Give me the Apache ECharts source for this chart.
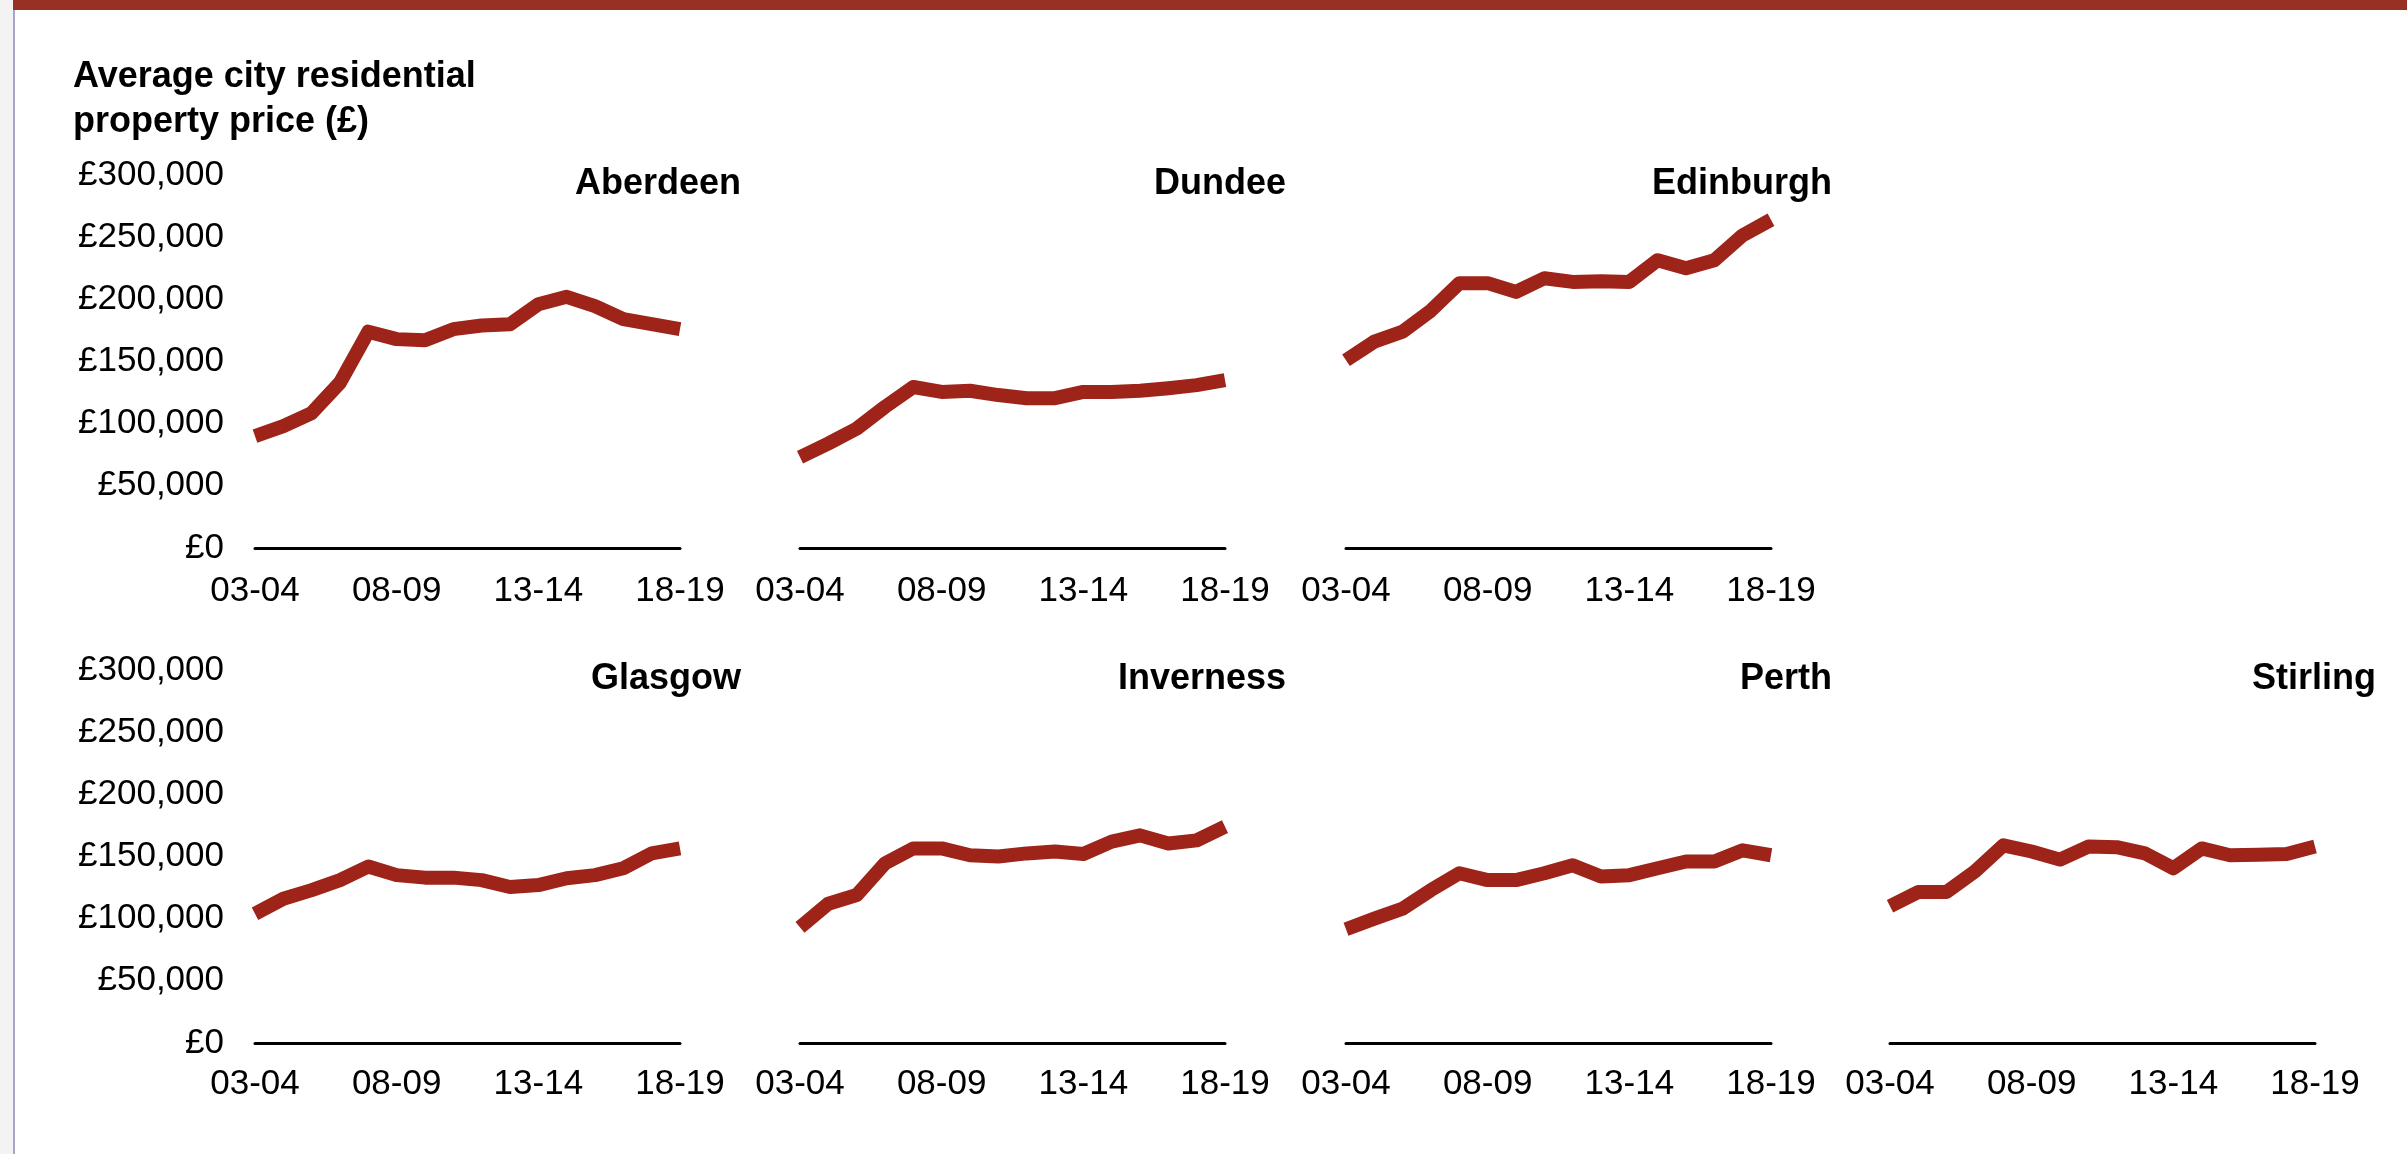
<!DOCTYPE html>
<html>
<head>
<meta charset="utf-8">
<script src="https://cdn.jsdelivr.net/npm/echarts@6/dist/echarts.min.js"></script>
<style>
  html, body { margin: 0; padding: 0; background: #fff; }
  #chart { width: 2407px; height: 1154px; }
</style>
</head>
<body>
<div id="chart"></div>
<script>
// Financial years shown on every panel
const years = ['03-04', '04-05', '05-06', '06-07', '07-08', '08-09', '09-10', '10-11',
               '11-12', '12-13', '13-14', '14-15', '15-16', '16-17', '17-18', '18-19'];

// Average residential property price per city (£)
const aberdeen  = [90000, 98000, 108500, 133000, 174000, 168000, 167000, 176000, 179000, 180000, 196000, 202000, 194500, 184000, 180000, 176000];
const dundee    = [73000, 84000, 96000, 113500, 129500, 125500, 126500, 123000, 120500, 120500, 125500, 125500, 126500, 128500, 131000, 135000];
const edinburgh = [151000, 166000, 174000, 191000, 213000, 213000, 206000, 217000, 214000, 214500, 214000, 231500, 225000, 231500, 251500, 264000];
const glasgow   = [104000, 116000, 123000, 131000, 142000, 135000, 133000, 133000, 131000, 125500, 127000, 132500, 135000, 140500, 152500, 156500];
const inverness = [93000, 112000, 119000, 144500, 156500, 156500, 151000, 150000, 152500, 154000, 152000, 162000, 167000, 160500, 163000, 174000];
const perth     = [91500, 100000, 108000, 123000, 136500, 131000, 131000, 136500, 143000, 134000, 135000, 140500, 146000, 146000, 155000, 151000];
const stirling  = [110000, 121500, 121500, 138000, 159000, 154000, 147500, 158000, 157500, 152500, 140500, 156500, 151000, 151500, 152000, 158000];

// Panel names and the order they are laid out in (row by row)
const cityNames = ['Aberdeen', 'Dundee', 'Edinburgh', 'Glasgow', 'Inverness', 'Perth', 'Stirling'];
const cityValues = [aberdeen, dundee, edinburgh, glasgow, inverness, perth, stirling];

// Shared value axis
const yMin = 0;
const yMax = 300000;
const yStep = 50000;

const FONT = '"Liberation Sans", Arial, Helvetica, sans-serif';
const LINE_COLOR = '#9e2318';

// Layout of the small multiples
const colLeft = [255, 800, 1346, 1890];
const rowTop = [175, 670];
const rowLabelGap = [26, 24];
const plotW = 425;
const plotH = 373;
const slots = [[0, 0], [0, 1], [0, 2], [1, 0], [1, 1], [1, 2], [1, 3]];

function poundFormat(v) {
  const s = String(Math.round(v)).replace(/\B(?=(\d{3})+(?!\d))/g, ',');
  return '£' + s;
}

const grids = [], xAxes = [], yAxes = [], series = [], panelTitles = [];

cityNames.forEach(function (name, i) {
  const row = slots[i][0], col = slots[i][1];
  const left = colLeft[col], top = rowTop[row];
  grids.push({
    left: left, top: top, width: plotW, height: plotH,
    containLabel: false, outerBoundsMode: 'none'
  });
  xAxes.push({
    type: 'category', gridIndex: i, data: years, boundaryGap: false,
    axisLine: { show: true, lineStyle: { color: '#000', width: 3 } },
    axisTick: { show: false },
    axisLabel: {
      interval: 4, margin: rowLabelGap[row], color: '#000',
      fontSize: 35, fontFamily: FONT
    },
    splitLine: { show: false }
  });
  yAxes.push({
    type: 'value', gridIndex: i, min: yMin, max: yMax, interval: yStep,
    axisLine: { show: false }, axisTick: { show: false },
    splitLine: { show: false },
    axisLabel: {
      show: col === 0, margin: 31, color: '#000',
      fontSize: 35, fontFamily: FONT, formatter: poundFormat
    }
  });
  series.push({
    type: 'line', name: name, xAxisIndex: i, yAxisIndex: i,
    data: cityValues[i], showSymbol: false, symbol: 'none',
    lineStyle: { color: LINE_COLOR, width: 14, cap: 'butt', join: 'round' },
    silent: true
  });
  panelTitles.push({
    type: 'text', x: left + plotW + 61, y: top + 9,
    style: {
      text: name, fill: '#000', fontSize: 36, fontWeight: 'bold',
      fontFamily: FONT, align: 'right', verticalAlign: 'middle'
    }
  });
});

const chart = echarts.init(document.getElementById('chart'), null, { renderer: 'canvas' });
chart.setOption({
  animation: false,
  backgroundColor: '#ffffff',
  grid: grids,
  xAxis: xAxes,
  yAxis: yAxes,
  series: series,
  graphic: [
    // page frame: grey margin strip, thin rule and the red header band
    { type: 'rect', shape: { x: 0, y: 0, width: 13, height: 1154 }, style: { fill: '#f3f3f3' }, silent: true },
    { type: 'rect', shape: { x: 13, y: 0, width: 2, height: 1154 }, style: { fill: '#a5a5c8' }, silent: true },
    { type: 'rect', shape: { x: 13, y: 0, width: 2394, height: 10 }, style: { fill: '#993024' }, silent: true },
    {
      type: 'text', x: 73, y: 55,
      style: {
        text: 'Average city residential\nproperty price (£)',
        fill: '#000', fontSize: 36, fontWeight: 'bold', fontFamily: FONT,
        lineHeight: 45, align: 'left', verticalAlign: 'top'
      }
    }
  ].concat(panelTitles)
});
</script>
</body>
</html>
